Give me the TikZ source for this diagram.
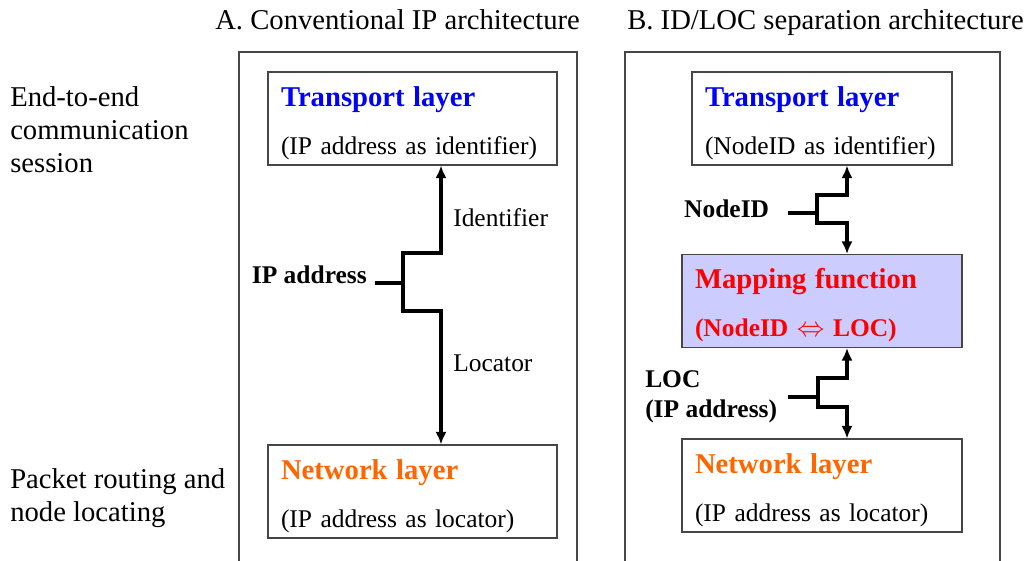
\documentclass[tikz,border=0pt]{standalone}
\usepackage{fontspec}
\setmainfont{Liberation Serif}
\usetikzlibrary{arrows.meta}
\definecolor{trblue}{RGB}{0,0,255}
\definecolor{nworange}{RGB}{255,102,0}
\definecolor{mapred}{RGB}{255,0,0}
\definecolor{mapfill}{RGB}{204,204,255}
\definecolor{frgray}{RGB}{70,70,70}
\newcommand{\bigf}{\fontsize{21.5pt}{24.75pt}\selectfont}
\newcommand{\smf}{\fontsize{19.1pt}{22.5pt}\selectfont}
\newcommand{\ttl}[2]{{\rule{0pt}{22pt}\bigf\bfseries\color{#1}#2}}

\begin{document}
\begin{tikzpicture}[x=0.75pt, y=-0.75pt,
    b/.style={draw=frgray, line width=0.8pt, align=left, inner xsep=9.75pt,
              inner ysep=0pt, minimum height=69.75pt,
              font=\fontsize{19.1pt}{36pt}\selectfont},
    fr/.style={draw=frgray, line width=0.8pt},
    hd/.style={font=\bigf, inner sep=0pt},
    lb/.style={font=\smf\bfseries, inner ysep=0pt},
    lt/.style={font=\smf, inner sep=0pt},
    a/.style={-{Latex[length=9.5pt,width=8.5pt]}, line width=2.4pt},
    l/.style={line width=2.4pt}]
    \useasboundingbox (0,0) rectangle (1030,560);
    % titles and side notes
    \node[hd, anchor=base west] (tiA) at (215,30) {A. Conventional IP architecture};
    \node[hd, anchor=base west] (tiB) at (627,30) {B. ID/LOC separation architecture};
    \node[hd, align=left, anchor=west] (ete) at (10,130) {End-to-end\\communication\\session};
    \node[hd, align=left, anchor=west] (prn) at (10,498) {Packet routing and\\node locating};
    \draw[fr] (239,561) -- (239,52) -- (577,52) -- (577,561);
    \draw[fr] (625,561) -- (625,52) -- (1000,52) -- (1000,561);
    % A: conventional
    \node[b, text width=197.25pt] (tA) at (412.5,118.5)
      {\ttl{trblue}{Transport layer}\\(IP address as identifier)};
    \node[b, text width=197.25pt] (nA) at (412.5,491.5)
      {\ttl{nworange}{Network layer}\\(IP address as locator)};
    \node[lb, anchor=base east, inner xsep=6pt] (ip) at (375,283) {IP address};
    \coordinate (jA) at (403,283);
    \draw[l] (ip.base east) -- (jA);
    \draw[a] (jA) |- (441,253) -- (tA.south -| 441,0);
    \draw[a] (jA) |- (441,311) -- (nA.north -| 441,0);
    \node[lt, anchor=west] (idf) at (453,218) {Identifier};
    \node[lt, anchor=west] (lcr) at (453,363) {Locator};
    % B: ID/LOC split
    \node[b, text width=175.5pt] (tB) at (822,118.5)
      {\ttl{trblue}{Transport layer}\\(NodeID as identifier)};
    \node[b, text width=190.5pt, fill=mapfill, text=mapred] (mB) at (822,301)
      {\ttl{mapred}{Mapping function}\\\textbf{(NodeID $\Leftrightarrow$ LOC)}};
    \node[b, text width=190.5pt] (nB) at (822,485.5)
      {\ttl{nworange}{Network layer}\\(IP address as locator)};
    \node[lb, anchor=east, inner xsep=14pt] (nid) at (788,209) {NodeID};
    \coordinate (jB1) at (817,213);
    \draw[l] (nid.east |- jB1) -- (jB1);
    \draw[a] (jB1) |- (847,195) -- (tB.south -| 847,0);
    \draw[a] (jB1) |- (847,223) -- (mB.north -| 847,0);
    \node[lb, anchor=east, align=left, inner xsep=8pt] (lc) at (788,397) {LOC\\(IP address)};
    \coordinate (jB2) at (818,397);
    \draw[l] (lc.east) -- (jB2);
    \draw[a] (jB2) |- (847,378) -- (mB.south -| 847,0);
    \draw[a] (jB2) |- (847,407) -- (nB.north -| 847,0);
\end{tikzpicture}
\end{document}
